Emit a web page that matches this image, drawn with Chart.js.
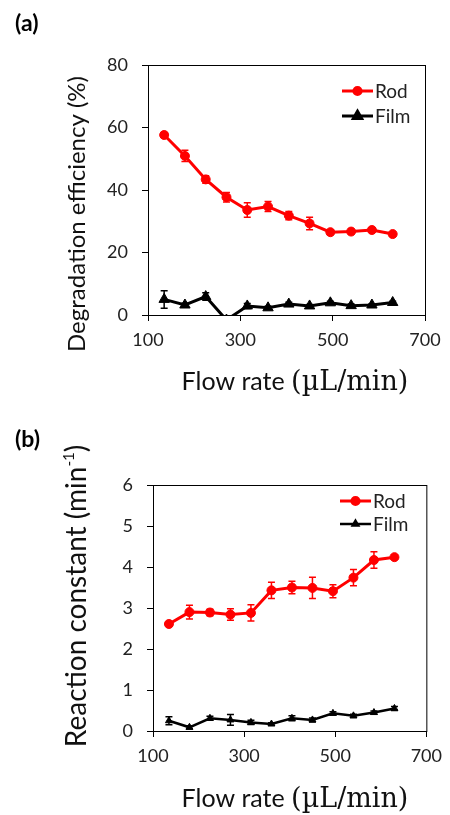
<!DOCTYPE html>
<html>
<head>
<meta charset="utf-8">
<script src="https://cdn.jsdelivr.net/npm/chart.js@4/dist/chart.umd.min.js"></script>
<style>
    body { margin: 0; background: #fff; }
    #wrap { position: relative; width: 450px; height: 815px; }
    canvas { position: absolute; left: 0; }
    #effChart { top: 0; }
    #rateChart { top: 410px; }
</style>
</head>
<body>
<div id="wrap">
    <canvas id="effChart" width="450" height="410"></canvas>
    <canvas id="rateChart" width="450" height="405"></canvas>
</div>
<script>
// flow rates (uL/min)
const flowRate = [135, 180, 225, 270, 315, 360, 405, 450, 495, 540, 585, 630];

// (a) degradation efficiency, %
const rodEfficiency = [57.6, 50.9, 43.4, 37.7, 33.6, 34.7, 31.8, 29.3, 26.5, 26.7, 27.2, 25.9];
const rodEfficiencyErr = [0.8, 1.8, 1.2, 1.5, 2.3, 1.6, 1.3, 2.0, 0.8, 0.8, 0.7, 0.5];
const filmEfficiency = [5.0, 3.2, 5.9, -1.6, 2.9, 2.3, 3.5, 2.9, 3.9, 3.0, 3.2, 4.0];
const filmEfficiencyErr = [2.8, 0.6, 1.2, 0, 0.8, 0.5, 0.6, 0.5, 0.5, 0.5, 0.4, 0.4];

// (b) reaction constant, 1/min
const rodConstant = [2.61, 2.90, 2.89, 2.84, 2.88, 3.43, 3.50, 3.49, 3.41, 3.74, 4.17, 4.24];
const rodConstantErr = [0.05, 0.17, 0.08, 0.14, 0.20, 0.20, 0.15, 0.26, 0.16, 0.20, 0.20, 0.05];
const filmConstant = [0.25, 0.09, 0.31, 0.27, 0.21, 0.17, 0.31, 0.27, 0.43, 0.37, 0.45, 0.55];
const filmConstantErr = [0.10, 0.04, 0.05, 0.13, 0.05, 0.03, 0.06, 0.05, 0.04, 0.04, 0.04, 0.05];

const xTicks = [100, 300, 500, 700];
const effTicks = [0, 20, 40, 60, 80];
const rateTicks = [0, 1, 2, 3, 4, 5, 6];

const SANS = 'Lato, "Open Sans", sans-serif';
const SERIF = '"DejaVu Serif", "Liberation Serif", serif';

function points(ys) {
    return flowRate.map((x, i) => ({ x: x, y: ys[i] }));
}

// draws a row of text pieces (different fonts / superscripts) centred on 0
function drawParts(ctx, parts) {
    let total = 0;
    parts.forEach(p => { ctx.font = p.font; p.w = ctx.measureText(p.text).width; total += p.w; });
    let x = -total / 2;
    parts.forEach(p => {
        ctx.font = p.font;
        ctx.fillText(p.text, x, p.dy || 0);
        x += p.w;
    });
}

// frame, error bars, legend and titles
const decorPlugin = {
    id: 'decor',
    // keep lines and markers that dip below zero inside the plot
    beforeDatasetDraw(chart) {
        const a = chart.chartArea;
        chart.ctx.save();
        chart.ctx.beginPath();
        chart.ctx.rect(a.left, a.top - 10, a.right - a.left, a.bottom - a.top + 10);
        chart.ctx.clip();
    },
    afterDatasetDraw(chart) {
        chart.ctx.restore();
    },
    afterDatasetsDraw(chart, args, opts) {
        const ctx = chart.ctx;
        const xs = chart.scales.x, ys = chart.scales.y;
        const area = chart.chartArea;

        // error bars
        chart.data.datasets.forEach(ds => {
            if (!ds.errors) return;
            ctx.save();
            ctx.beginPath();
            ctx.rect(area.left, area.top - 20, area.right - area.left, area.bottom - area.top + 20);
            ctx.clip();
            ctx.strokeStyle = ds.borderColor;
            ctx.lineWidth = 1.5;
            ds.data.forEach((pt, i) => {
                const e = ds.errors[i];
                if (!e) return;
                const px = xs.getPixelForValue(pt.x);
                const top = ys.getPixelForValue(pt.y + e);
                const bot = ys.getPixelForValue(pt.y - e);
                ctx.beginPath();
                ctx.moveTo(px, top); ctx.lineTo(px, bot);
                ctx.moveTo(px - 3.5, top); ctx.lineTo(px + 3.5, top);
                ctx.moveTo(px - 3.5, bot); ctx.lineTo(px + 3.5, bot);
                ctx.stroke();
            });
            ctx.restore();
        });

        // box round the plot
        ctx.save();
        ctx.strokeStyle = '#000';
        ctx.lineWidth = 1;
        ctx.strokeRect(area.left + 0.5, area.top + 0.5, area.right - area.left, area.bottom - area.top);
        ctx.restore();

        // legend
        ctx.save();
        chart.data.datasets.forEach((ds, di) => {
            const y = opts.legend.y + di * opts.legend.gap;
            const x0 = opts.legend.x, x1 = x0 + 31;
            ctx.strokeStyle = ds.borderColor;
            ctx.fillStyle = ds.borderColor;
            ctx.lineWidth = ds.borderWidth;
            ctx.beginPath();
            ctx.moveTo(x0, y); ctx.lineTo(x1, y);
            ctx.stroke();
            Chart.helpers.drawPoint(ctx, {
                pointStyle: ds.pointStyle, radius: ds.pointRadius * 0.8,
                rotation: 0, borderWidth: 1
            }, (x0 + x1) / 2, y);
            ctx.fillStyle = '#222';
            ctx.font = '19px ' + SANS;
            ctx.textBaseline = 'middle';
            ctx.textAlign = 'left';
            ctx.fillText(ds.label, x1 + 2, y + 1);
        });
        ctx.restore();

        // panel label
        ctx.save();
        ctx.fillStyle = '#000';
        ctx.font = 'bold 23px ' + SANS;
        ctx.textBaseline = 'alphabetic';
        ctx.fillText(opts.panel, 15, opts.panelY);
        ctx.restore();

        // axis titles
        ctx.save();
        ctx.fillStyle = '#111';
        ctx.textBaseline = 'alphabetic';
        ctx.textAlign = 'left';
        ctx.translate(opts.yTitle.x, opts.yTitle.y);
        ctx.rotate(-Math.PI / 2);
        drawParts(ctx, opts.yTitle.parts);
        ctx.restore();

        ctx.save();
        ctx.fillStyle = '#111';
        ctx.textBaseline = 'alphabetic';
        ctx.textAlign = 'left';
        ctx.translate(opts.xTitle.x, opts.xTitle.y);
        drawParts(ctx, [
            { text: 'Flow rate ', font: '25px ' + SANS },
            { text: '(\u00b5L/min)', font: '27px ' + SERIF }
        ]);
        ctx.restore();
    }
};

function makeChart(el, cfg) {
    const tickFont = { family: SANS, size: 18 };
    return new Chart(el, {
        type: 'line',
        data: {
            datasets: [{
                label: 'Rod',
                data: points(cfg.rod),
                errors: cfg.rodErr,
                borderColor: '#ff0000',
                backgroundColor: '#ff0000',
                borderWidth: 3,
                pointStyle: 'circle',
                pointRadius: 4.5,
                pointBorderWidth: 1,
                tension: 0
            }, {
                label: 'Film',
                data: points(cfg.film),
                errors: cfg.filmErr,
                borderColor: '#000000',
                backgroundColor: '#000000',
                borderWidth: cfg.filmWidth,
                pointStyle: 'triangle',
                pointRadius: cfg.filmRadius,
                pointBorderWidth: 1,
                tension: 0
            }]
        },
        options: {
            responsive: false,
            animation: false,
            events: [],
            layout: { padding: { left: 0, right: cfg.padRight, top: cfg.padTop, bottom: 0 } },
            plugins: {
                legend: { display: false },
                tooltip: { enabled: false },
                decor: cfg.decor
            },
            scales: {
                x: {
                    type: 'linear',
                    min: 100,
                    max: 700,
                    afterBuildTicks: s => { s.ticks = xTicks.map(v => ({ value: v })); },
                    afterFit: s => { s.height = cfg.xHeight; },
                    grid: { drawOnChartArea: false, drawTicks: true, tickLength: 6, tickColor: '#000' },
                    border: { color: '#000', width: 1 },
                    ticks: { color: '#222', font: tickFont, padding: 8, maxRotation: 0 }
                },
                y: {
                    min: cfg.yMin,
                    max: cfg.yMax,
                    afterBuildTicks: s => { s.ticks = cfg.yTicks.map(v => ({ value: v })); },
                    afterFit: s => { s.width = cfg.yWidth; },
                    grid: { drawOnChartArea: false, drawTicks: true, tickLength: 6, tickColor: '#000' },
                    border: { color: '#000', width: 1 },
                    ticks: { color: '#222', font: tickFont, padding: 14 }
                }
            }
        },
        plugins: [decorPlugin]
    });
}

makeChart(document.getElementById('effChart'), {
    rod: rodEfficiency, rodErr: rodEfficiencyErr,
    film: filmEfficiency, filmErr: filmEfficiencyErr,
    filmWidth: 3, filmRadius: 6,
    yMin: 0, yMax: 80, yTicks: effTicks,
    yWidth: 148, padRight: 25, padTop: 65, xHeight: 95,
    decor: {
        panel: '(a)', panelY: 31,
        legend: { x: 342, y: 91, gap: 25 },
        yTitle: { x: 85, y: 214, parts: [{ text: 'Degradation efficiency (%)', font: '24px ' + SANS }] },
        xTitle: { x: 295, y: 390 }
    }
});

makeChart(document.getElementById('rateChart'), {
    rod: rodConstant, rodErr: rodConstantErr,
    film: filmConstant, filmErr: filmConstantErr,
    filmWidth: 2.5, filmRadius: 4,
    yMin: 0, yMax: 6, yTicks: rateTicks,
    yWidth: 153, padRight: 18, padTop: 75, xHeight: 84,
    decor: {
        panel: '(b)', panelY: 37,
        legend: { x: 340, y: 91, gap: 23 },
        yTitle: { x: 86, y: 186, parts: [
            { text: 'Reaction constant (min', font: '28px ' + SANS },
            { text: '-1', font: '15px ' + SANS, dy: -12 },
            { text: ')', font: '28px ' + SANS }
        ] },
        xTitle: { x: 295, y: 397 }
    }
});
</script>
</body>
</html>
